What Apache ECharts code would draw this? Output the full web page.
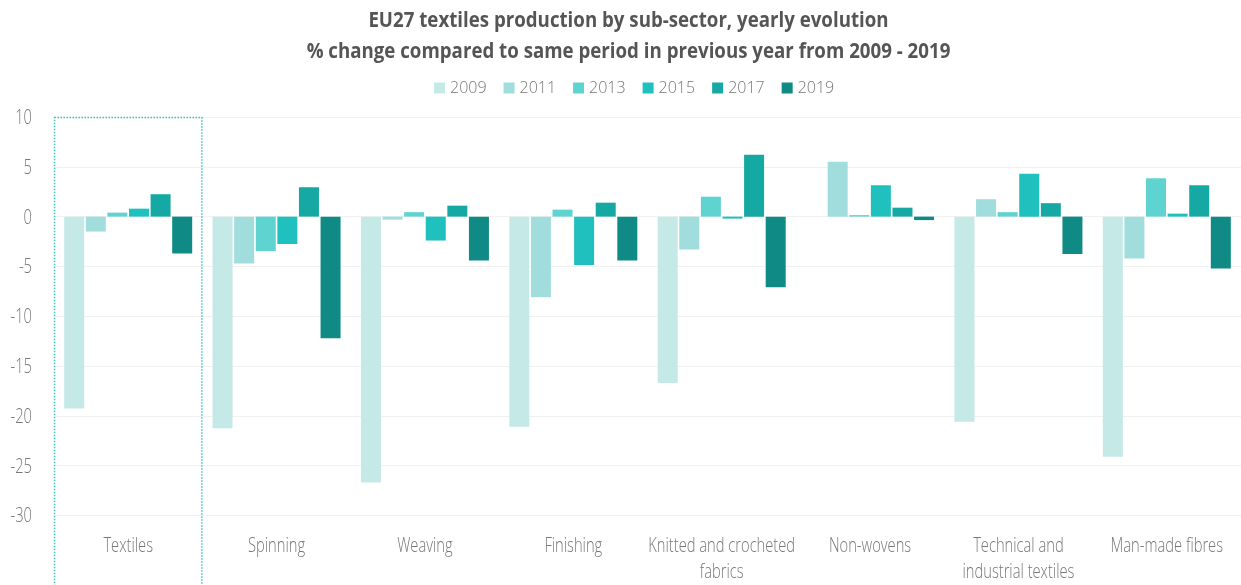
<!DOCTYPE html>
<html>
<head>
<meta charset="utf-8">
<style>
  html, body { margin: 0; padding: 0; background: #ffffff; }
  #chart { width: 1241px; height: 585px; }
</style>
<script src="https://cdn.jsdelivr.net/npm/echarts@6/dist/echarts.min.js"></script>
</head>
<body>
<div id="chart"></div>
<script>
// Sub-sectors on the category axis
const categories = [
  'Textiles', 'Spinning', 'Weaving', 'Finishing',
  'Knitted and crocheted\nfabrics', 'Non-wovens',
  'Technical and\nindustrial textiles', 'Man-made fibres'
];

// % change vs. same period of previous year, one array per year
const years = ['2009', '2011', '2013', '2015', '2017', '2019'];
const v2009 = [-19.25, -21.25, -26.7, -21.1, -16.7, null, -20.6, -24.1];
const v2011 = [-1.5, -4.7, -0.3, -8.1, -3.3, 5.5, 1.75, -4.2];
const v2013 = [0.4, -3.45, 0.45, 0.7, 2.0, 0.15, 0.45, 3.85];
const v2015 = [0.8, -2.75, -2.4, -4.85, -0.2, 3.15, 4.3, 0.3];
const v2017 = [2.25, 2.95, 1.1, 1.4, 6.2, 0.9, 1.35, 3.15];
const v2019 = [-3.7, -12.2, -4.4, -4.4, -7.1, -0.35, -3.75, -5.2];
const seriesValues = [v2009, v2011, v2013, v2015, v2017, v2019];

// Value axis ticks
const yTickValues = [10, 5, 0, -5, -10, -15, -20, -25, -30];

const titleLines = [
  'EU27 textiles production by sub-sector, yearly evolution',
  '% change compared to same period in previous year from 2009 - 2019'
];

const yearColors = ['#c4e9e7', '#a2dddd', '#5fd3d0', '#1fc0bd', '#16a9a4', '#0f8a84'];
const labelColor = '#777777';
const labelFont = '300 21px "Open Sans", sans-serif';
const labelSqueeze = 0.7;    // condensed look for the light labels
const titleFont = 'bold 21px "Open Sans", sans-serif';
const titleSqueeze = 0.89;

const chart = echarts.init(document.getElementById('chart'), null, { renderer: 'canvas' });

chart.setOption({
  backgroundColor: '#ffffff',
  animation: false,
  legend: {
    data: years,
    top: 75,
    left: 429,
    itemWidth: 11,
    itemHeight: 11,
    itemGap: 17,
    icon: 'rect',
    textStyle: { fontFamily: '"Open Sans", sans-serif', fontWeight: 300, fontSize: 16, color: labelColor }
  },
  grid: { left: 54, right: -6, top: 117, bottom: 69.5, containLabel: false },
  xAxis: {
    type: 'category',
    data: categories,
    axisLine: { show: false },
    axisTick: { show: false },
    axisLabel: { show: false }
  },
  yAxis: {
    type: 'value',
    min: yTickValues[yTickValues.length - 1],
    max: yTickValues[0],
    interval: 5,
    axisLine: { show: false },
    axisTick: { show: false },
    splitLine: { lineStyle: { color: '#f1f1f1', width: 1 } },
    axisLabel: { show: false }
  },
  series: years.map((y, i) => ({
    name: y,
    type: 'bar',
    data: seriesValues[i],
    barWidth: 20,
    barGap: '8%',
    itemStyle: { color: yearColors[i] }
  }))
});

// Title, tick labels and the dotted frame, placed from the chart's own scales
function drawDecorations() {
  const g = [];
  const cx = chart.getWidth() / 2 + 8;

  titleLines.forEach((t, i) => {
    g.push({
      type: 'text', x: cx, y: 21.5 + i * 31, scaleX: titleSqueeze, silent: true,
      style: { text: t, font: titleFont, fill: '#555555', align: 'center', verticalAlign: 'middle' }
    });
  });

  yTickValues.forEach(v => {
    const y = chart.convertToPixel({ yAxisIndex: 0 }, v);
    g.push({
      type: 'text', x: 32, y: y + 1, scaleX: labelSqueeze, silent: true,
      style: { text: String(v), font: labelFont, fill: labelColor, align: 'right', verticalAlign: 'middle' }
    });
  });

  const plotBottom = chart.convertToPixel({ yAxisIndex: 0 }, yTickValues[yTickValues.length - 1]);
  categories.forEach(c => {
    const x = chart.convertToPixel({ xAxisIndex: 0 }, c);
    g.push({
      type: 'text', x: x, y: plotBottom + 18, scaleX: labelSqueeze, silent: true,
      style: { text: c, font: labelFont, fill: labelColor, align: 'center', verticalAlign: 'top', lineHeight: 26 }
    });
  });

  const x0 = chart.convertToPixel({ xAxisIndex: 0 }, categories[0]);
  const x1 = chart.convertToPixel({ xAxisIndex: 0 }, categories[1]);
  const band = x1 - x0;
  const top = chart.convertToPixel({ yAxisIndex: 0 }, yTickValues[0]);
  g.push({
    type: 'rect', silent: true, z: 10,
    shape: { x: x0 - band / 2 + 0.5, y: top + 0.5, width: band - 1, height: chart.getHeight() },
    style: { fill: 'none', stroke: '#3cc6c2', lineWidth: 1.5, lineDash: [1.5, 1.5] }
  });

  chart.setOption({ graphic: g });
}
drawDecorations();
</script>
</body>
</html>
